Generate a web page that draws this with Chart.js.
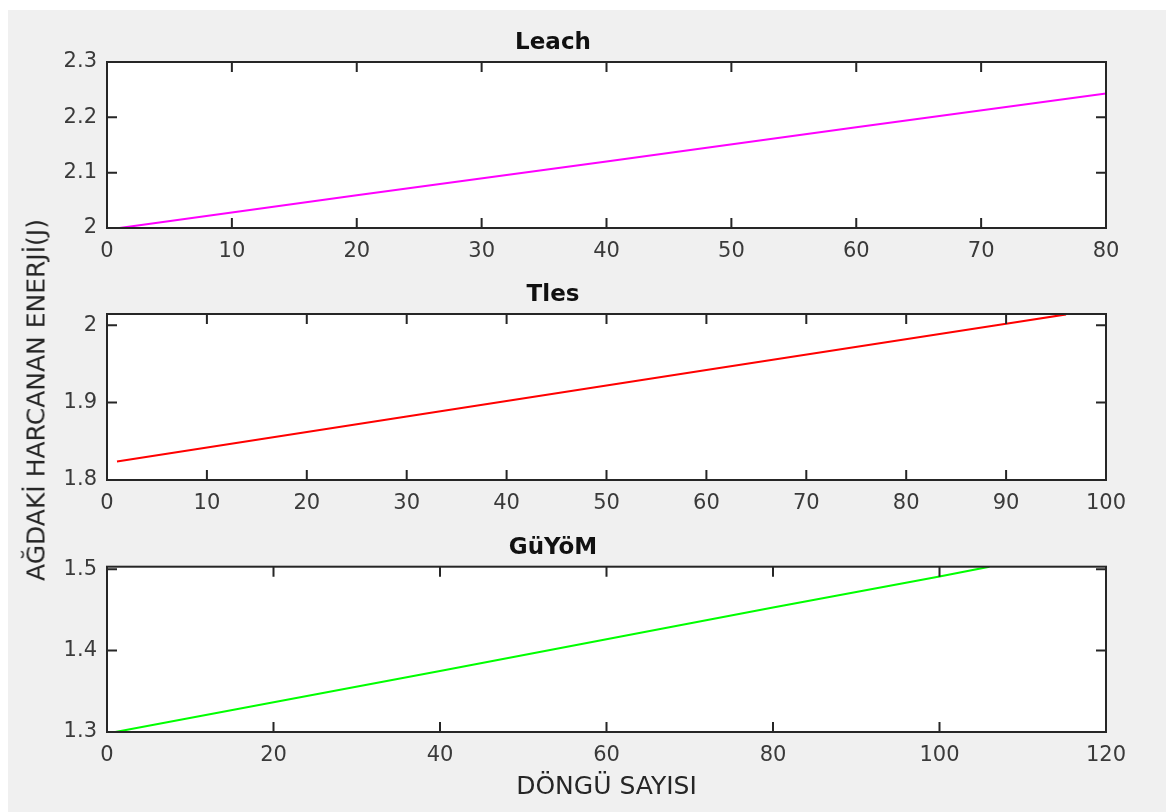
<!DOCTYPE html>
<html>
<head>
<meta charset="utf-8">
<script src="https://cdn.jsdelivr.net/npm/chart.js@4.4.1/dist/chart.umd.min.js"></script>
<style>
    body { margin: 0; background: #ffffff; }
    #figure { position: absolute; left: 8px; top: 10px; width: 1158px; height: 802px; background: #f0f0f0; }
    canvas { position: absolute; left: 0; }
    #ylabel {
        position: absolute; left: 36px; top: 400px;
        transform: translate(-50%, -50%) rotate(-90deg);
        font-family: "DejaVu Sans", sans-serif; font-size: 25px; color: #262626;
        white-space: nowrap;
    }
</style>
</head>
<body>
<div id="figure"></div>
<canvas id="leachChart" width="1166" height="270" style="top:0px"></canvas>
<canvas id="tlesChart" width="1166" height="250" style="top:270px"></canvas>
<canvas id="guyomChart" width="1166" height="292" style="top:520px"></canvas>
<div id="ylabel">AĞDAKİ HARCANAN ENERJİ(J)</div>
<script>
// values
var leachRounds = [1, 20, 40, 60, 80];
var leachEnergy = [2.0, 2.059, 2.120, 2.182, 2.243];
var tlesRounds = [1, 30, 60, 90, 96];
var tlesEnergy = [1.824, 1.882, 1.942, 2.002, 2.014];
var guyomRounds = [1, 40, 80, 100, 106];
var guyomEnergy = [1.300, 1.375, 1.453, 1.491, 1.503];

var leachXTicks = [0, 10, 20, 30, 40, 50, 60, 70, 80];
var leachYTicks = [2, 2.1, 2.2, 2.3];
var tlesXTicks = [0, 10, 20, 30, 40, 50, 60, 70, 80, 90, 100];
var tlesYTicks = [1.8, 1.9, 2];
var guyomXTicks = [0, 20, 40, 60, 80, 100, 120];
var guyomYTicks = [1.3, 1.4, 1.5];

var axisColor = "#262626";
var tickFont = { family: "DejaVu Sans", size: 21 };

// white plot area, black box and inward ticks on all four sides
var matlabBox = {
    id: "matlabBox",
    beforeDraw: function (chart) {
        var a = chart.chartArea;
        var ctx = chart.ctx;
        ctx.save();
        ctx.fillStyle = "#ffffff";
        ctx.fillRect(a.left, a.top, a.right - a.left, a.bottom - a.top);
        ctx.restore();
    },
    afterDatasetsDraw: function (chart) {
        var a = chart.chartArea;
        var ctx = chart.ctx;
        var len = 10;
        ctx.save();
        ctx.strokeStyle = axisColor;
        ctx.lineWidth = 2;
        ctx.strokeRect(a.left, a.top, a.right - a.left, a.bottom - a.top);
        ctx.beginPath();
        chart.scales.x.ticks.forEach(function (t) {
            var px = chart.scales.x.getPixelForValue(t.value);
            ctx.moveTo(px, a.bottom); ctx.lineTo(px, a.bottom - len);
            ctx.moveTo(px, a.top); ctx.lineTo(px, a.top + len);
        });
        chart.scales.y.ticks.forEach(function (t) {
            var py = chart.scales.y.getPixelForValue(t.value);
            ctx.moveTo(a.left, py); ctx.lineTo(a.left + len, py);
            ctx.moveTo(a.right, py); ctx.lineTo(a.right - len, py);
        });
        ctx.stroke();
        ctx.restore();
    }
};

function toPoints(xs, ys) {
    var pts = [];
    for (var i = 0; i < xs.length; i++) {
        pts.push({ x: xs[i], y: ys[i] });
    }
    return pts;
}

function makeSubplot(canvasId, opts) {
    var ctx = document.getElementById(canvasId).getContext("2d");
    return new Chart(ctx, {
        type: "line",
        data: {
            datasets: [{
                data: toPoints(opts.xs, opts.ys),
                borderColor: opts.color,
                borderWidth: 2,
                pointRadius: 0,
                tension: 0,
                fill: false
            }]
        },
        plugins: [matlabBox],
        options: {
            responsive: false,
            animation: false,
            devicePixelRatio: 1,
            layout: { padding: { left: 0, right: 60, top: 0, bottom: 0 } },
            plugins: {
                legend: { display: false },
                tooltip: { enabled: false },
                title: {
                    display: true,
                    text: opts.title,
                    color: "#111111",
                    font: { family: "DejaVu Sans", size: 23, weight: "bold", lineHeight: 1.2 },
                    padding: { top: opts.titleTop, bottom: opts.titleBottom }
                }
            },
            scales: {
                x: {
                    type: "linear",
                    min: opts.xTicks[0],
                    max: opts.xTicks[opts.xTicks.length - 1],
                    grid: { display: false, drawTicks: false },
                    border: { display: false },
                    ticks: {
                        color: "#3a3a3a", font: tickFont, padding: 11, maxRotation: 0,
                        callback: function (v) { return String(v); }
                    },
                    title: {
                        display: !!opts.xTitle,
                        text: opts.xTitle || "",
                        color: axisColor,
                        font: { family: "DejaVu Sans", size: 25, lineHeight: 1.2 },
                        padding: { top: 0, bottom: 10 }
                    },
                    afterBuildTicks: function (scale) {
                        scale.ticks = opts.xTicks.map(function (v) { return { value: v }; });
                    },
                    afterFit: function (scale) { scale.height = opts.xHeight; }
                },
                y: {
                    min: opts.yTicks[0],
                    max: opts.yMax,
                    grid: { display: false, drawTicks: false },
                    border: { display: false },
                    ticks: {
                        color: "#3a3a3a", font: tickFont, padding: 10,
                        callback: function (v) { return String(Math.round(v * 10) / 10); }
                    },
                    afterBuildTicks: function (scale) {
                        scale.ticks = opts.yTicks.map(function (v) { return { value: v }; });
                    },
                    afterFit: function (scale) { scale.width = 107; }
                }
            }
        }
    });
}

makeSubplot("leachChart", {
    title: "Leach", xs: leachRounds, ys: leachEnergy, color: "#ff00ff",
    xTicks: leachXTicks, yTicks: leachYTicks, yMax: 2.3,
    titleTop: 29.2, titleBottom: 5.2, xHeight: 42
});
makeSubplot("tlesChart", {
    title: "Tles", xs: tlesRounds, ys: tlesEnergy, color: "#ff0000",
    xTicks: tlesXTicks, yTicks: tlesYTicks, yMax: 2.0145,
    titleTop: 11.2, titleBottom: 5.2, xHeight: 40
});
makeSubplot("guyomChart", {
    title: "GüYöM", xs: guyomRounds, ys: guyomEnergy, color: "#00ff00",
    xTicks: guyomXTicks, yTicks: guyomYTicks, yMax: 1.503,
    titleTop: 14.2, titleBottom: 4.9, xHeight: 80, xTitle: "DÖNGÜ SAYISI"
});
</script>
</body>
</html>
